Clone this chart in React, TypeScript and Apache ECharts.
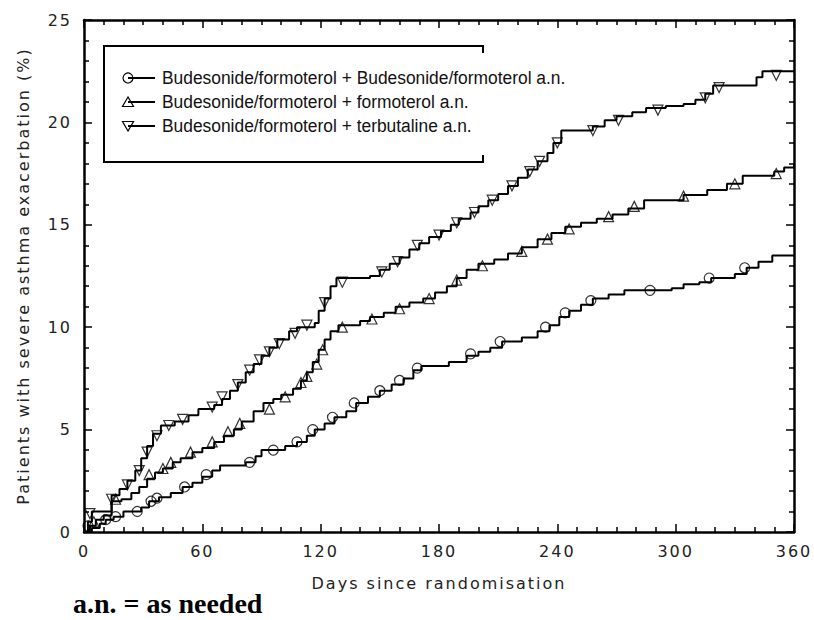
import React, { useEffect, useRef } from "react";
import * as echarts from "echarts";

// Axis ticks
const xTicks = [0, 60, 120, 180, 240, 300, 360];
const yTicks = [0, 5, 10, 15, 20, 25];

const xAxisTitle = "Days since randomisation";
const yAxisTitle = "Patients with severe asthma exacerbation (%)";
const footnote = "a.n. = as needed";

const seriesNames = [
  "Budesonide/formoterol + Budesonide/formoterol a.n.",
  "Budesonide/formoterol + formoterol a.n.",
  "Budesonide/formoterol + terbutaline a.n.",
];

// Step curves: [day, cumulative %] (value changes at that day)
const bfSteps: [number, number][] = [
  [0, 0], [4, 0.2], [8, 0.4], [11, 0.6], [15, 0.75], [20, 1.0], [29, 1.2], [33, 1.5], [38, 1.7],
  [44, 1.9], [50, 2.2], [55, 2.4], [60, 2.7], [65, 3.0], [69, 3.25], [82, 3.4], [87, 3.7], [90, 4.0],
  [102, 4.2], [108, 4.4], [113, 4.7], [117, 5.0], [122, 5.3], [127, 5.6], [133, 5.9], [138, 6.3],
  [144, 6.6], [150, 6.9], [156, 7.2], [162, 7.5], [167, 7.9], [171, 8.1], [185, 8.3], [194, 8.6],
  [200, 8.8], [206, 9.0], [212, 9.3], [222, 9.5], [230, 9.8], [236, 10.1], [241, 10.5], [246, 10.8],
  [252, 11.1], [258, 11.4], [266, 11.6], [274, 11.8], [298, 11.9], [304, 12.1], [312, 12.2],
  [318, 12.4], [330, 12.6], [336, 12.9], [342, 13.2], [349, 13.5], [360, 13.5],
];

const formSteps: [number, number][] = [
  [0, 0], [3, 0.3], [6, 0.6], [10, 0.8], [14, 1.5], [19, 1.6], [24, 1.9], [28, 2.2], [32, 2.6],
  [36, 2.9], [40, 3.1], [45, 3.4], [49, 3.6], [55, 3.9], [60, 4.1], [66, 4.4], [71, 4.7], [76, 5.0],
  [80, 5.4], [86, 5.9], [91, 6.3], [96, 6.5], [100, 6.7], [106, 7.0], [110, 7.4], [113, 7.8],
  [116, 8.3], [119, 8.9], [122, 9.4], [125, 9.8], [129, 10.1], [140, 10.3], [145, 10.5], [152, 10.7],
  [158, 11.0], [165, 11.2], [172, 11.4], [178, 11.7], [184, 12.0], [189, 12.4], [194, 12.8],
  [200, 13.1], [208, 13.3], [215, 13.6], [222, 13.9], [230, 14.3], [237, 14.6], [244, 14.9],
  [252, 15.1], [260, 15.3], [268, 15.5], [276, 15.8], [284, 16.2], [304, 16.45], [316, 16.7],
  [326, 17.0], [334, 17.4], [350, 17.6], [355, 17.8], [360, 18.0],
];

const terbSteps: [number, number][] = [
  [0, 0], [2, 0.5], [4, 1.0], [14, 1.8], [18, 2.1], [22, 2.5], [26, 3.0], [29, 3.6], [32, 4.2],
  [35, 4.8], [39, 5.2], [46, 5.4], [53, 5.7], [58, 6.0], [66, 6.2], [70, 6.5], [74, 6.9], [78, 7.3],
  [82, 7.8], [86, 8.2], [90, 8.6], [94, 9.0], [98, 9.4], [104, 9.8], [108, 10.0], [117, 10.2],
  [119, 10.8], [122, 11.4], [125, 12.0], [128, 12.4], [145, 12.5], [150, 12.8], [155, 13.1],
  [160, 13.4], [165, 13.8], [170, 14.1], [175, 14.4], [181, 14.7], [186, 15.0], [190, 15.3],
  [196, 15.6], [200, 15.9], [205, 16.2], [210, 16.5], [215, 16.9], [220, 17.3], [225, 17.7],
  [230, 18.1], [235, 18.5], [238, 19.0], [242, 19.6], [258, 19.8], [264, 20.1], [270, 20.3],
  [278, 20.5], [285, 20.7], [295, 20.8], [304, 20.9], [310, 21.1], [315, 21.4], [319, 21.8],
  [341, 22.2], [344, 22.5], [360, 22.5],
];

// Marker positions drawn along each curve: [day, %]
const bfMarks: [number, number][] = [
  [2, 0.3], [11, 0.6], [16, 0.75], [27, 1.0], [34, 1.5], [37, 1.65], [51, 2.2], [62, 2.8], [84, 3.4],
  [96, 4.0], [108, 4.4], [116, 5.0], [126, 5.6], [137, 6.3], [150, 6.9], [160, 7.4], [169, 8.0],
  [196, 8.7], [211, 9.3], [234, 10.0], [244, 10.7], [257, 11.3], [287, 11.8], [317, 12.4], [335, 12.9],
];
const formMarks: [number, number][] = [
  [5, 0.5], [16, 1.6], [33, 2.8], [40, 3.1], [44, 3.4], [54, 3.9], [65, 4.4], [73, 4.9], [79, 5.3],
  [94, 6.0], [102, 6.6], [110, 7.3], [113, 7.6], [118, 8.2], [121, 8.9], [131, 10.0], [146, 10.4],
  [160, 10.9], [175, 11.4], [189, 12.3], [202, 13.0], [222, 13.7], [235, 14.3], [246, 14.8],
  [266, 15.4], [279, 15.9], [304, 16.4], [330, 17.0], [351, 17.5],
];
const terbMarks: [number, number][] = [
  [3, 0.9], [14, 1.6], [22, 2.3], [28, 3.0], [32, 3.9], [37, 4.7], [43, 5.2], [50, 5.5], [65, 6.1],
  [70, 6.6], [78, 7.2], [84, 7.9], [89, 8.4], [94, 8.8], [99, 9.2], [107, 9.7], [113, 10.1],
  [122, 11.2], [131, 12.2], [151, 12.7], [159, 13.2], [169, 14.0], [180, 14.5], [189, 15.1],
  [198, 15.6], [207, 16.2], [217, 16.9], [226, 17.6], [231, 18.1], [240, 19.0], [258, 19.6],
  [271, 20.1], [291, 20.6], [315, 21.2], [322, 21.7], [351, 22.3],
];

const AXIS_FONT = "DejaVu Sans";
const LEGEND_FONT = "Liberation Sans";

export default function App() {
  const ref = useRef<HTMLDivElement>(null);

  useEffect(() => {
    if (!ref.current) return;
    const chart = echarts.init(ref.current, undefined, { renderer: "svg" });

    const axisLine = { show: true, onZero: false, lineStyle: { color: "#000", width: 2.5 } };
    const tickStyle = { color: "#000", width: 1.5 };
    const labelStyle = { fontFamily: AXIS_FONT, fontSize: 16, color: "#222" };

    const xBase = {
      type: "value" as const,
      min: xTicks[0],
      max: xTicks[xTicks.length - 1],
      interval: xTicks[1] - xTicks[0],
      axisLine,
      axisTick: { show: true, inside: true, length: 8, lineStyle: tickStyle },
      minorTick: { show: true, splitNumber: 6, length: 5, lineStyle: tickStyle },
      splitLine: { show: false },
      minorSplitLine: { show: false },
    };
    const yBase = {
      type: "value" as const,
      min: yTicks[0],
      max: yTicks[yTicks.length - 1],
      interval: yTicks[1] - yTicks[0],
      axisLine,
      axisTick: { show: true, inside: true, length: 8, lineStyle: tickStyle },
      minorTick: { show: true, splitNumber: 5, length: 5, lineStyle: tickStyle },
      splitLine: { show: false },
      minorSplitLine: { show: false },
    };

    const lineSeries = (name: string, data: [number, number][]) => ({
      name,
      type: "line" as const,
      step: "end" as const,
      data,
      showSymbol: false,
      symbol: "none",
      lineStyle: { color: "#000", width: 2 },
      z: 3,
      silent: true,
    });
    const markSeries = (
      name: string,
      data: [number, number][],
      symbol: string,
      rotate: number
    ) => ({
      name: name + " (marks)",
      type: "scatter" as const,
      data,
      symbol,
      symbolSize: 10,
      symbolRotate: rotate,
      itemStyle: { color: "rgba(0,0,0,0)", borderColor: "#000", borderWidth: 1.2 },
      z: 4,
      silent: true,
    });

    // Legend (custom drawn)
    const rowsY = [78, 102, 126];
    const symX = 128;
    const legendGraphics: any[] = [
      {
        type: "polyline",
        shape: { points: [[483, 53], [483, 46], [104, 46], [104, 162], [483, 162], [483, 155]] },
        style: { stroke: "#000", lineWidth: 2, fill: null },
      },
    ];
    rowsY.forEach((y, i) => {
      legendGraphics.push({
        type: "line",
        shape: { x1: symX, y1: y, x2: 155, y2: y },
        style: { stroke: "#000", lineWidth: 2 },
      });
      if (i === 0) {
        legendGraphics.push({
          type: "circle",
          shape: { cx: symX, cy: y, r: 5 },
          style: { stroke: "#000", lineWidth: 1.2, fill: "rgba(0,0,0,0)" },
        });
      } else if (i === 1) {
        legendGraphics.push({
          type: "polygon",
          shape: { points: [[symX, y - 5], [symX - 5.5, y + 4.5], [symX + 5.5, y + 4.5]] },
          style: { stroke: "#000", lineWidth: 1.2, fill: "rgba(0,0,0,0)" },
        });
      } else {
        legendGraphics.push({
          type: "polygon",
          shape: { points: [[symX, y + 5], [symX - 5.5, y - 4.5], [symX + 5.5, y - 4.5]] },
          style: { stroke: "#000", lineWidth: 1.2, fill: "rgba(0,0,0,0)" },
        });
      }
      legendGraphics.push({
        type: "text",
        x: 162,
        y,
        scaleX: 0.915,
        style: {
          text: seriesNames[i],
          fontFamily: LEGEND_FONT,
          fontSize: 19,
          fill: "#111",
          textAlign: "left",
          textVerticalAlign: "middle",
        },
      });
    });

    chart.setOption({
      animation: false,
      backgroundColor: "#fff",
      grid: { left: 84, right: 20, top: 20, bottom: 88, containLabel: false },
      xAxis: [
        {
          ...xBase,
          position: "bottom",
          axisLabel: { ...labelStyle, margin: 11, formatter: (v: number) => String(v) },
          name: xAxisTitle,
          nameLocation: "middle",
          nameGap: 43,
          nameTextStyle: { ...labelStyle },
        },
        { ...xBase, position: "top", axisLabel: { show: false } },
      ],
      yAxis: [
        {
          ...yBase,
          position: "left",
          axisLabel: { ...labelStyle, margin: 12, formatter: (v: number) => String(v) },
          name: yAxisTitle,
          nameLocation: "middle",
          nameGap: 53,
          nameTextStyle: { ...labelStyle },
        },
        { ...yBase, position: "right", axisLabel: { show: false } },
      ],
      series: [
        lineSeries(seriesNames[0], bfSteps),
        lineSeries(seriesNames[1], formSteps),
        lineSeries(seriesNames[2], terbSteps),
        markSeries(seriesNames[0], bfMarks, "circle", 0),
        markSeries(seriesNames[1], formMarks, "triangle", 0),
        markSeries(seriesNames[2], terbMarks, "triangle", 180),
      ],
      graphic: [
        ...legendGraphics,
        {
          type: "text",
          left: 73,
          top: 589,
          style: {
            text: footnote,
            fontFamily: "Liberation Serif",
            fontWeight: "bold",
            fontSize: 28,
            fill: "#000",
          },
        },
      ],
    });

    return () => chart.dispose();
  }, []);

  return (
    <div style={{ position: "fixed", left: 0, top: 0, width: 814, height: 620, background: "#fff" }}>
      <style>{`.ch text[style*="DejaVu"]{letter-spacing:2px}`}</style>
      <div ref={ref} className="ch" style={{ width: 814, height: 620 }} />
    </div>
  );
}
